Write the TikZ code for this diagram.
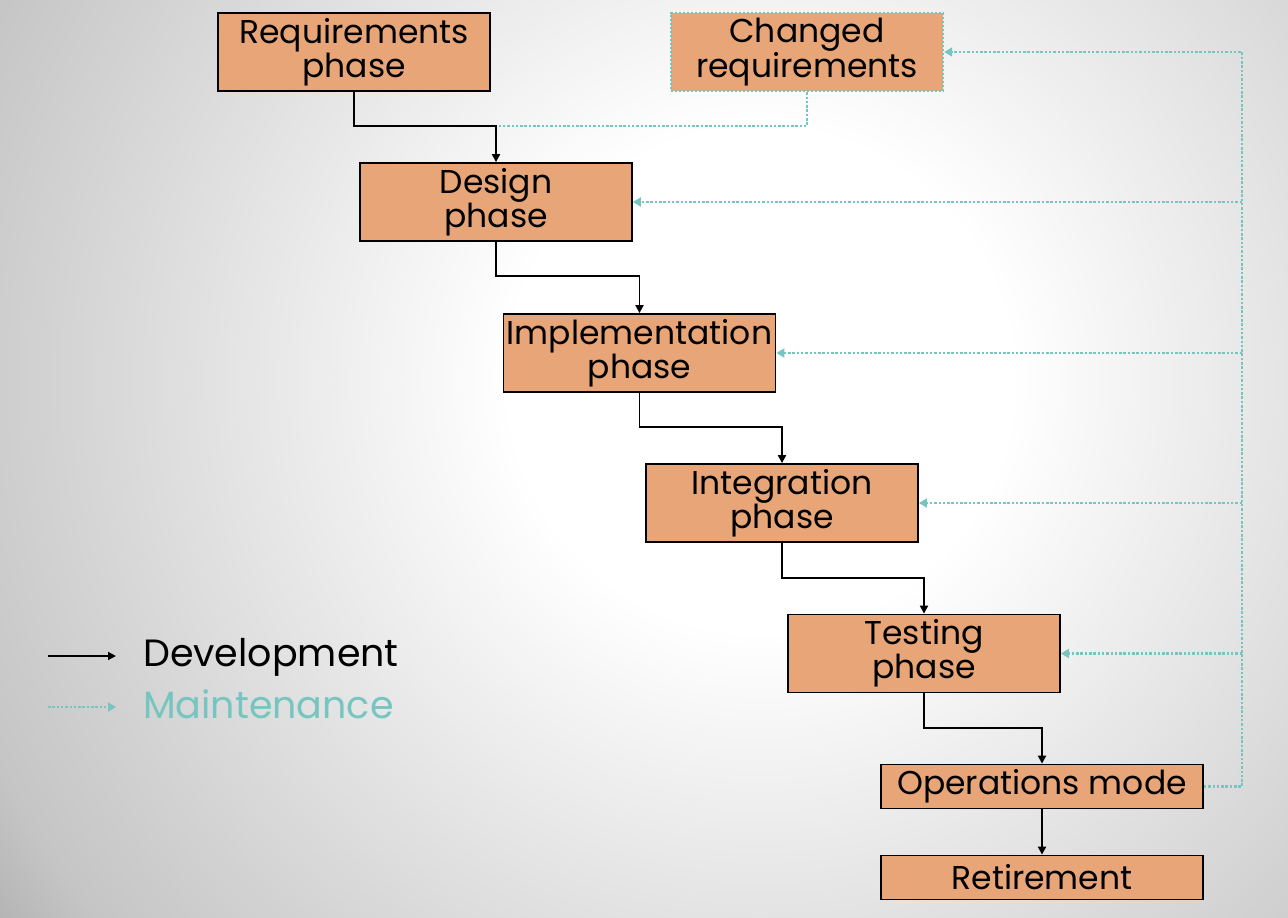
\documentclass[tikz,border=0pt]{standalone}
\usepackage{fontspec}
\setmainfont{Poppins}
\usetikzlibrary{arrows.meta,calc}
\definecolor{boxfill}{RGB}{232,166,120}
\definecolor{teal2}{RGB}{118,197,192}
\definecolor{gA}{RGB}{216,216,216}
\definecolor{gB}{RGB}{197,197,197}
\definecolor{gC}{RGB}{176,176,176}
\definecolor{gD}{RGB}{170,170,170}
\pgfdeclareradialshading{bgshade}{\pgfpoint{0bp}{0bp}}{color(0bp)=(white); color(250bp)=(white); color(650bp)=(gA); color(850bp)=(gB); color(950bp)=(gC); color(1100bp)=(gD)}
\tikzset{
  phasebox/.style={draw=black, line width=1.8pt, fill=boxfill, minimum width=272pt, minimum height=78pt, inner sep=0pt, align=center, font=\fontsize{33}{30.5}\selectfont},
  smallbox/.style={phasebox, minimum width=322pt, minimum height=44pt},
  chgbox/.style={phasebox, draw=teal2, line width=2.4pt, dash pattern=on 2.4pt off 1.6pt},
  dev/.style={draw=black, line width=1.9pt, -{Triangle[length=8pt,width=8pt]}},
  mntline/.style={draw=teal2, line width=2.6pt, dash pattern=on 2.5pt off 1.8pt},
  mnt/.style={mntline, -{Triangle[length=8pt,width=9pt]}},
  legtext/.style={anchor=base west, inner sep=0pt, font=\fontsize{38}{38}\selectfont}
}
\begin{document}
\begin{tikzpicture}[x=1pt,y=-1pt]
\useasboundingbox (0,0) rectangle (1288,918);
\begin{scope}
\clip (0,0) rectangle (1288,918);
\node[inner sep=0pt, outer sep=0pt, anchor=center] (bg) at (760,380) {\pgfuseshading{bgshade}};
\end{scope}

\node[phasebox] (req) at (354,52) {Requirements\\phase};
\node[chgbox] (chg) at (807,52) {Changed\\requirements};
\node[phasebox] (des) at (496,202) {Design\\phase};
\node[phasebox] (imp) at (639.5,353) {Implementation\\phase};
\node[phasebox] (int) at (782,503) {Integration\\phase};
\node[phasebox] (tst) at (924,653.5) {Testing\\phase};
\node[smallbox] (ops) at (1042,786.5) {Operations mode};
\node[smallbox] (ret) at (1042,877.5) {Retirement};

\coordinate (spine) at (1242,0);
\coordinate (j1) at (0,126);
\coordinate (j2) at (0,276);
\coordinate (j3) at (0,427);
\coordinate (j4) at (0,578);
\coordinate (j5) at (0,728);

% maintenance lines
\draw[mntline] (chg.south) |- ($(des.north |- j1)+(2,0)$);
\draw[mnt] (ops.east) -- (ops.east -| spine) |- (chg.east);
\draw[mnt] (des.east -| spine) -- (des.east);
\draw[mnt] (imp.east -| spine) -- (imp.east);
\draw[mnt] (int.east -| spine) -- (int.east);
\draw[mnt] (tst.east -| spine) -- (tst.east);

% development lines
\draw[dev] (req.south) |- (des.north |- j1) -- (des.north);
\draw[dev] (des.south) |- (imp.north |- j2) -- (imp.north);
\draw[dev] (imp.south) |- (int.north |- j3) -- (int.north);
\draw[dev] (int.south) |- (tst.north |- j4) -- (tst.north);
\draw[dev] (tst.south) |- (ops.north |- j5) -- (ops.north);
\draw[dev] (ops.south) -- (ret.north);

% legend
\coordinate (ld1) at (48,656);
\coordinate (ld2) at (116,656);
\coordinate (lm1) at (48,707);
\coordinate (lm2) at (116,707);
\draw[dev, line width=1.5pt] (ld1) -- (ld2);
\draw[mnt, line width=1.8pt] (lm1) -- (lm2);
\node[legtext] (legdev) at (143,666) {Development};
\node[legtext, text=teal2] (legmnt) at (143,718) {Maintenance};
\end{tikzpicture}
\end{document}
